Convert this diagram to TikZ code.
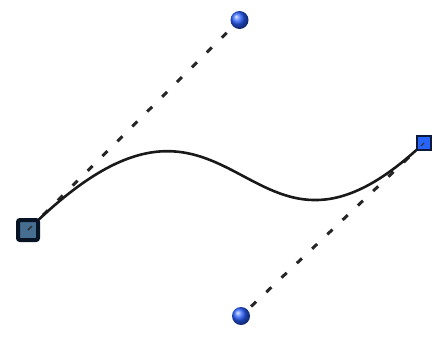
\documentclass[tikz,border=0pt]{standalone}
\begin{document}
\begin{tikzpicture}[x=1bp,y=-1bp,
  guide/.style={draw=black!85, line width=3bp, dash pattern=on 7bp off 14bp},
  curveline/.style={draw=black!90, line width=2.6bp},
  startpt/.style={draw={rgb,255:red,8;green,20;blue,35}, line width=4bp, fill={rgb,255:red,70;green,110;blue,145}, rounded corners=2bp, minimum size=20bp, inner sep=0pt},
  endpt/.style={draw={rgb,255:red,10;green,25;blue,60}, line width=1.8bp, fill={rgb,255:red,40;green,100;blue,250}, minimum size=14bp, inner sep=0pt},
  handle/.style={circle, minimum size=18bp, inner sep=0pt, shading=ball, ball color={rgb,255:red,40;green,95;blue,255}}]
\useasboundingbox (0,0) rectangle (434,338);
\coordinate (A) at (28,230);
\coordinate (B) at (424,143);
\coordinate (C1) at (239.5,20);
\coordinate (C2) at (241,316);
\draw[guide] (A) -- (C1);
\draw[guide] (B) -- (C2);
\draw[curveline] (A) .. controls (C1) and (C2) .. (B);
\node[startpt] (s) at (A) {};
\node[endpt] (e) at (B) {};
\draw[black!80, line width=1.5bp] (A) -- ++(4,-4);
\draw[black!80, line width=1.2bp] (B) -- ++(-3,3);
\node[handle] (h1) at (C1) {};
\node[handle] (h2) at (C2) {};
\end{tikzpicture}
\end{document}
